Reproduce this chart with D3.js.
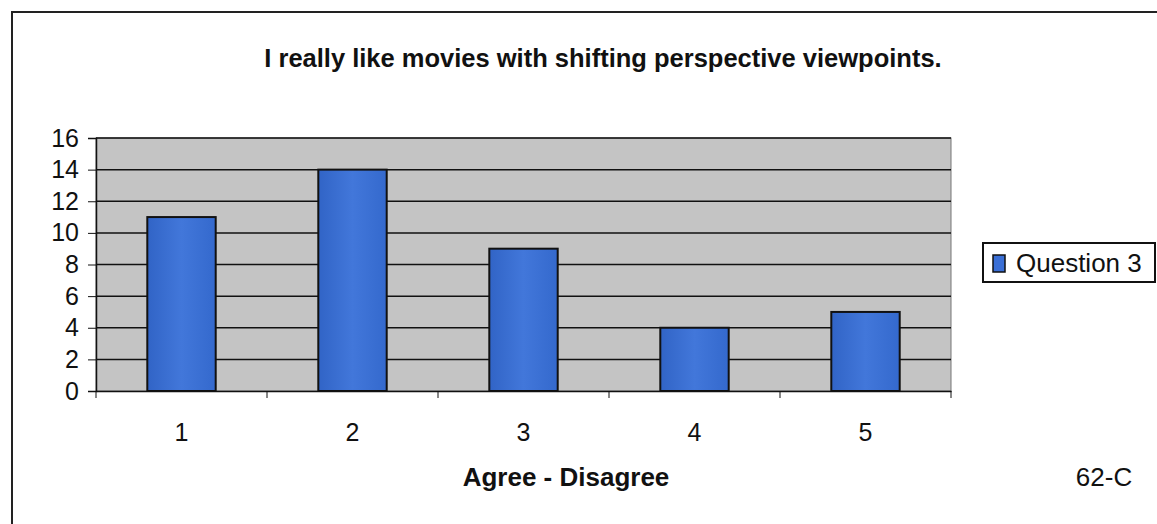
<!DOCTYPE html>
<html><head><meta charset="utf-8">
<script src="https://cdn.jsdelivr.net/npm/d3@7"></script>
<style>body{margin:0;background:#fff;} svg{display:block;font-family:"Liberation Sans",Arial,sans-serif;}</style>
</head><body>
<svg id="c" width="1157" height="524"></svg>
<script>
const categories = ["1","2","3","4","5"];
const values = [11,14,9,4,5];
const yTicks = [0,2,4,6,8,10,12,14,16];
const seriesName = "Question 3";
const title = "I really like movies with shifting perspective viewpoints.";
const xTitle = "Agree - Disagree";
const note = "62-C";

const svg = d3.select("#c");
const m = {left:96, top:138, right:951, bottom:391};
const FONT = "Liberation Sans, Arial, sans-serif";

// outer border
svg.append("path").attr("d","M12,524 L12,12 L1157,12").attr("fill","none").attr("stroke","#222").attr("stroke-width",2);

const x = d3.scaleBand().domain(categories).range([m.left,m.right]).paddingInner(0.6).paddingOuter(0.3);
const xb = d3.scaleBand().domain(categories).range([m.left,m.right]);
const y = d3.scaleLinear().domain([0,16]).range([m.bottom,m.top]);

svg.append("rect").attr("x",m.left).attr("y",m.top).attr("width",m.right-m.left).attr("height",m.bottom-m.top).attr("fill","#c4c4c4").attr("stroke","#777").attr("stroke-width",1);

svg.append("g").selectAll("line").data(yTicks.filter(d=>d>0)).join("line")
  .attr("x1",m.left).attr("x2",m.right).attr("y1",d=>y(d)).attr("y2",d=>y(d))
  .attr("stroke","#111").attr("stroke-width",1.5);

const defs = svg.append("defs");
const g = defs.append("linearGradient").attr("id","bg").attr("x1",0).attr("x2",1).attr("y1",0).attr("y2",0);
g.append("stop").attr("offset","0%").attr("stop-color","#3164c6");
g.append("stop").attr("offset","50%").attr("stop-color","#4277da");
g.append("stop").attr("offset","100%").attr("stop-color","#3469cd");

svg.append("g").selectAll("rect").data(values).join("rect")
  .attr("x",(d,i)=>x(categories[i])).attr("width",x.bandwidth())
  .attr("y",d=>y(d)).attr("height",d=>y(0)-y(d))
  .attr("fill","url(#bg)").attr("stroke","#111").attr("stroke-width",2);

// y axis
const ya = svg.append("g").attr("transform",`translate(${m.left},0)`)
  .call(d3.axisLeft(y).tickValues(yTicks).tickSize(8).tickPadding(9));
ya.select(".domain").attr("stroke","#111").attr("stroke-width",1.5);
ya.selectAll(".tick line").attr("stroke","#111");
ya.selectAll("text").attr("font-size",25).attr("fill","#111").attr("font-family",FONT);

// x axis
const xa = svg.append("g").attr("transform",`translate(0,${m.bottom})`)
  .call(d3.axisBottom(xb).tickSize(0).tickPadding(32));
xa.select(".domain").attr("stroke","#111").attr("stroke-width",1.5);
xa.selectAll("text").attr("font-size",25).attr("fill","#111").attr("font-family",FONT);
svg.append("g").selectAll("line").data(categories.map(c=>xb(c)).concat([m.right])).join("line")
  .attr("x1",d=>d).attr("x2",d=>d).attr("y1",m.bottom).attr("y2",m.bottom+7).attr("stroke","#111").attr("stroke-width",1);

svg.append("text").attr("x",603).attr("y",67).attr("text-anchor","middle").attr("font-size",25.5).attr("font-weight","bold").attr("fill","#111").text(title);
svg.append("text").attr("x",566).attr("y",486).attr("text-anchor","middle").attr("font-size",26).attr("font-weight","bold").attr("fill","#111").text(xTitle);
svg.append("text").attr("x",1104).attr("y",486).attr("text-anchor","middle").attr("font-size",26).attr("fill","#111").text(note);

// legend
const lg = svg.append("g");
lg.append("rect").attr("x",983).attr("y",243).attr("width",172).attr("height",39).attr("fill","#fff").attr("stroke","#111").attr("stroke-width",2);
lg.append("rect").attr("x",993).attr("y",255).attr("width",12).attr("height",17).attr("fill","#3a6fd6").attr("stroke","#111").attr("stroke-width",1.5);
lg.append("text").attr("x",1016).attr("y",272).attr("font-size",26).attr("fill","#111").text(seriesName);
</script>
</body></html>
